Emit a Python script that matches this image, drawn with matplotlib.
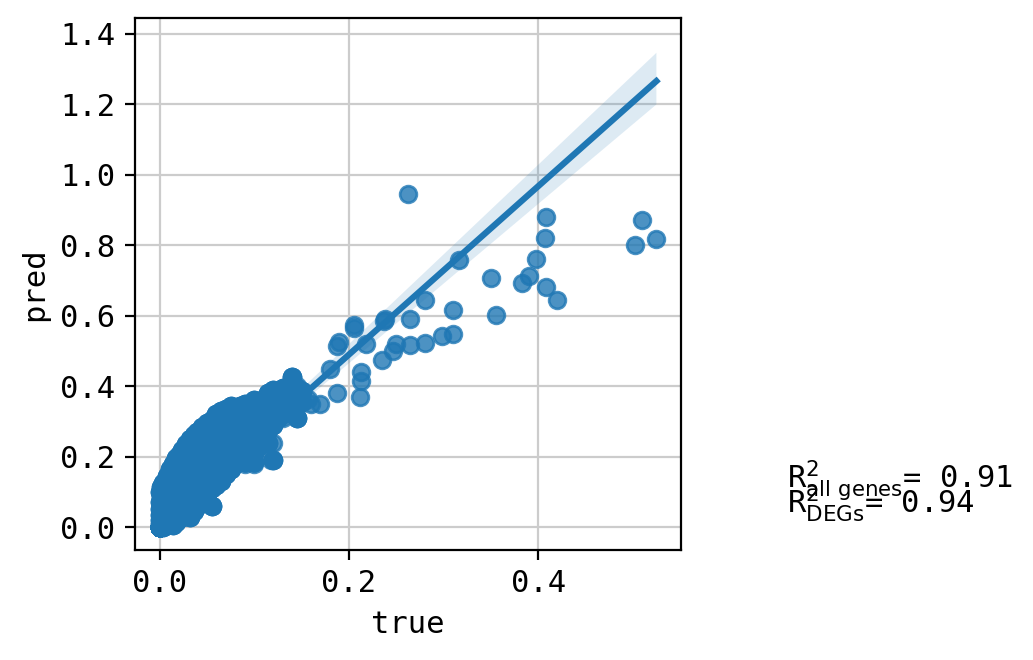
import numpy as np
import pandas as pd
import matplotlib
matplotlib.use('Agg')
import matplotlib.pyplot as plt
import seaborn as sns

# dense cluster near the origin, one column of pred values per true value
dense_true = [0.000, 0.002, 0.004, 0.006, 0.008, 0.011, 0.014, 0.017, 0.020, 0.024,
              0.028, 0.032, 0.036, 0.040, 0.045, 0.050, 0.055, 0.060, 0.065, 0.070,
              0.075, 0.080, 0.085, 0.090, 0.095, 0.100, 0.105, 0.110, 0.115, 0.120,
              0.125, 0.130, 0.135, 0.140, 0.145, 0.150]
dense_pred = [
    [0.000, 0.010, 0.020, 0.035, 0.050, 0.070, 0.100],
    [0.005, 0.025, 0.045, 0.065, 0.085, 0.115],
    [0.000, 0.030, 0.060, 0.090, 0.110, 0.125],
    [0.010, 0.040, 0.070, 0.100, 0.125],
    [0.005, 0.035, 0.065, 0.095, 0.130, 0.145],
    [0.010, 0.045, 0.080, 0.115, 0.150, 0.165],
    [0.005, 0.040, 0.075, 0.110, 0.145, 0.180],
    [0.015, 0.055, 0.095, 0.135, 0.170, 0.195],
    [0.025, 0.065, 0.105, 0.145, 0.185, 0.205],
    [0.030, 0.070, 0.115, 0.160, 0.200, 0.220],
    [0.035, 0.080, 0.125, 0.170, 0.210, 0.235],
    [0.030, 0.090, 0.140, 0.185, 0.225, 0.250],
    [0.045, 0.100, 0.150, 0.195, 0.235, 0.260],
    [0.060, 0.110, 0.160, 0.205, 0.245, 0.270],
    [0.080, 0.125, 0.175, 0.220, 0.260, 0.285],
    [0.095, 0.140, 0.185, 0.230, 0.270, 0.295],
    [0.060, 0.110, 0.155, 0.200, 0.245, 0.285, 0.305],
    [0.120, 0.165, 0.210, 0.255, 0.295, 0.320],
    [0.130, 0.175, 0.220, 0.265, 0.305, 0.330],
    [0.150, 0.190, 0.235, 0.275, 0.315, 0.335],
    [0.165, 0.205, 0.245, 0.285, 0.320, 0.345],
    [0.180, 0.215, 0.255, 0.295, 0.330],
    [0.190, 0.225, 0.265, 0.305, 0.345],
    [0.185, 0.235, 0.275, 0.315, 0.350],
    [0.200, 0.245, 0.285, 0.325],
    [0.185, 0.210, 0.255, 0.295, 0.335, 0.360],
    [0.230, 0.270, 0.310, 0.345],
    [0.250, 0.290, 0.330, 0.365],
    [0.240, 0.275, 0.315, 0.355, 0.380],
    [0.190, 0.290, 0.330, 0.370, 0.390],
    [0.310, 0.350, 0.385],
    [0.320, 0.360, 0.395],
    [0.330, 0.370],
    [0.345, 0.380, 0.425],
    [0.310, 0.350, 0.395],
    [0.355, 0.385],
]
dense_repeat = 4  # overlapping genes behind each visible point

# genes sitting at (almost) zero, hidden under the corner of the cluster
zero_true = [0.000, 0.001, 0.002, 0.003, 0.004]
zero_pred = [0.000, 0.005, 0.010, 0.015, 0.020]
zero_count = [1000, 1000, 1000, 1000, 1000]

# sparse points further out
sparse_true = [0.262, 0.316, 0.350, 0.383, 0.390, 0.398, 0.408, 0.407, 0.408, 0.420,
               0.502, 0.510, 0.525, 0.355, 0.310, 0.280, 0.265, 0.237, 0.238, 0.310,
               0.298, 0.280, 0.265, 0.250, 0.247, 0.235, 0.205, 0.205, 0.190, 0.187,
               0.218, 0.213, 0.213, 0.212, 0.187, 0.180, 0.160, 0.170, 0.157, 0.145,
               0.140, 0.145, 0.130, 0.120, 0.118, 0.100, 0.090, 0.055]
sparse_pred = [0.945, 0.758, 0.707, 0.694, 0.713, 0.762, 0.879, 0.821, 0.682, 0.645,
               0.802, 0.872, 0.818, 0.601, 0.615, 0.645, 0.590, 0.585, 0.590, 0.548,
               0.543, 0.522, 0.518, 0.520, 0.500, 0.473, 0.575, 0.565, 0.525, 0.513,
               0.520, 0.440, 0.415, 0.368, 0.380, 0.450, 0.350, 0.350, 0.365, 0.310,
               0.425, 0.400, 0.310, 0.240, 0.190, 0.180, 0.180, 0.060]

r2_all = 0.91
r2_degs = 0.94

rows = []
for xv, yv, n in zip(zero_true, zero_pred, zero_count):
    rows += [(xv, yv)] * n
for xv, ys in zip(dense_true, dense_pred):
    for yv in ys:
        rows += [(xv, yv)] * dense_repeat
rows += list(zip(sparse_true, sparse_pred))
df = pd.DataFrame(rows, columns=['true', 'pred'])

plt.rcParams['font.family'] = ['DejaVu Sans Mono']
plt.rcParams['font.size'] = 11

fig = plt.figure(figsize=(5.165, 3.3), dpi=200)
ax = fig.add_axes([135/1033, 110/660, 546/1033, 532/660])
ax.set_axisbelow(True)
ax.grid(True, color='#cccccc', lw=0.8)
sns.regplot(data=df, x='true', y='pred', ax=ax, seed=0)

ax.set_xlim(-0.026, 0.551)
ax.set_ylim(-0.065, 1.445)
ax.set_xticks([0.0, 0.2, 0.4])
ax.set_yticks([0.0, 0.2, 0.4, 0.6, 0.8, 1.0, 1.2, 1.4])
ax.tick_params(labelsize=11)
ax.set_xlabel('true', fontsize=11)
ax.set_ylabel('pred', fontsize=11)

# the two lines overlap in the original too
fig.text(787/1033, 1 - 488/660, 'R$^2_{\\mathrm{all\\ genes}}$= %.2f' % r2_all,
         va='baseline', ha='left', fontsize=11)
fig.text(787/1033, 1 - 513/660, 'R$^2_{\\mathrm{DEGs}}$= %.2f' % r2_degs,
         va='baseline', ha='left', fontsize=11)

fig.savefig('out.png', dpi=200)
